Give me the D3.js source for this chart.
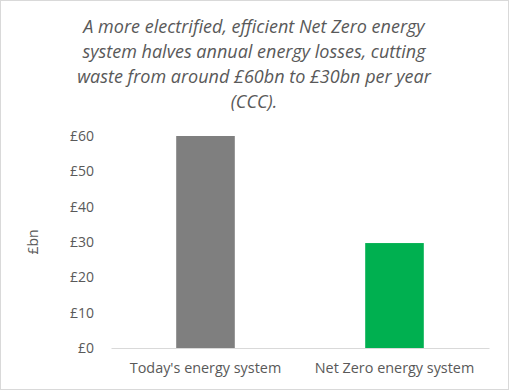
<!DOCTYPE html>
<html>
<head>
<meta charset="utf-8">
<script src="https://d3js.org/d3.v7.min.js"></script>
<style>
  body { margin: 0; background: #fff; }
  svg { display: block; font-family: "Open Sans", sans-serif; }
</style>
</head>
<body>
<div id="chart"></div>
<script>
// data
var categories = ["Today's energy system", "Net Zero energy system"];
var values = [60, 29.7];
var colors = ["#7f7f7f", "#00b050"];
var yTicks = [0, 10, 20, 30, 40, 50, 60];
var titleLines = [
  "A more electrified, efficient Net Zero energy",
  "system halves annual energy losses, cutting",
  "waste from around \u00a360bn to \u00a330bn per year",
  "(CCC)."
];

var W = 509, H = 390;
var margin = {top: 136, right: 20, bottom: 42, left: 111};

var svg = d3.select("#chart").append("svg")
  .attr("width", W)
  .attr("height", H);

// chart border
svg.append("rect")
  .attr("x", 0.5).attr("y", 0.5)
  .attr("width", W - 1).attr("height", H - 1)
  .attr("fill", "#fff")
  .attr("stroke", "#d9d9d9");

var x = d3.scaleBand()
  .domain(categories)
  .range([margin.left, W - margin.right])
  .paddingInner(0.69)
  .paddingOuter(0.345);

var y = d3.scaleLinear()
  .domain([0, 60])
  .range([H - margin.bottom, margin.top]);

// title
svg.append("g").selectAll("text")
  .data(titleLines)
  .enter().append("text")
    .attr("x", 254)
    .attr("y", function(d, i) { return 33 + i * 25; })
    .attr("text-anchor", "middle")
    .attr("font-size", "18px")
    .attr("font-style", "italic")
    .attr("fill", "#595959")
    .text(function(d) { return d; });

// y axis (labels only)
var yAxis = svg.append("g")
  .attr("transform", "translate(" + margin.left + ",0)")
  .call(d3.axisLeft(y).tickValues(yTicks).tickSize(0).tickPadding(17)
    .tickFormat(function(d) { return "\u00a3" + d; }));
yAxis.select(".domain").remove();
yAxis.selectAll("text")
  .attr("font-family", "Open Sans, sans-serif")
  .attr("font-size", "14px")
  .attr("fill", "#595959");

// y label
svg.append("text")
  .attr("transform", "translate(38," + y(30) + ") rotate(-90)")
  .attr("text-anchor", "middle")
  .attr("font-size", "14px")
  .attr("fill", "#595959")
  .text("\u00a3bn");

// bars
svg.append("g").selectAll("rect")
  .data(values)
  .enter().append("rect")
    .attr("x", function(d, i) { return x(categories[i]); })
    .attr("y", function(d) { return y(d); })
    .attr("width", x.bandwidth())
    .attr("height", function(d) { return y(0) - y(d); })
    .attr("fill", function(d, i) { return colors[i]; });

// x axis
var xAxis = svg.append("g")
  .attr("transform", "translate(0," + y(0) + ")")
  .call(d3.axisBottom(x).tickSize(0).tickPadding(15));
xAxis.select(".domain").attr("stroke", "#d9d9d9");
xAxis.selectAll("text")
  .attr("font-family", "Open Sans, sans-serif")
  .attr("font-size", "14.4px")
  .attr("fill", "#595959");
</script>
</body>
</html>
